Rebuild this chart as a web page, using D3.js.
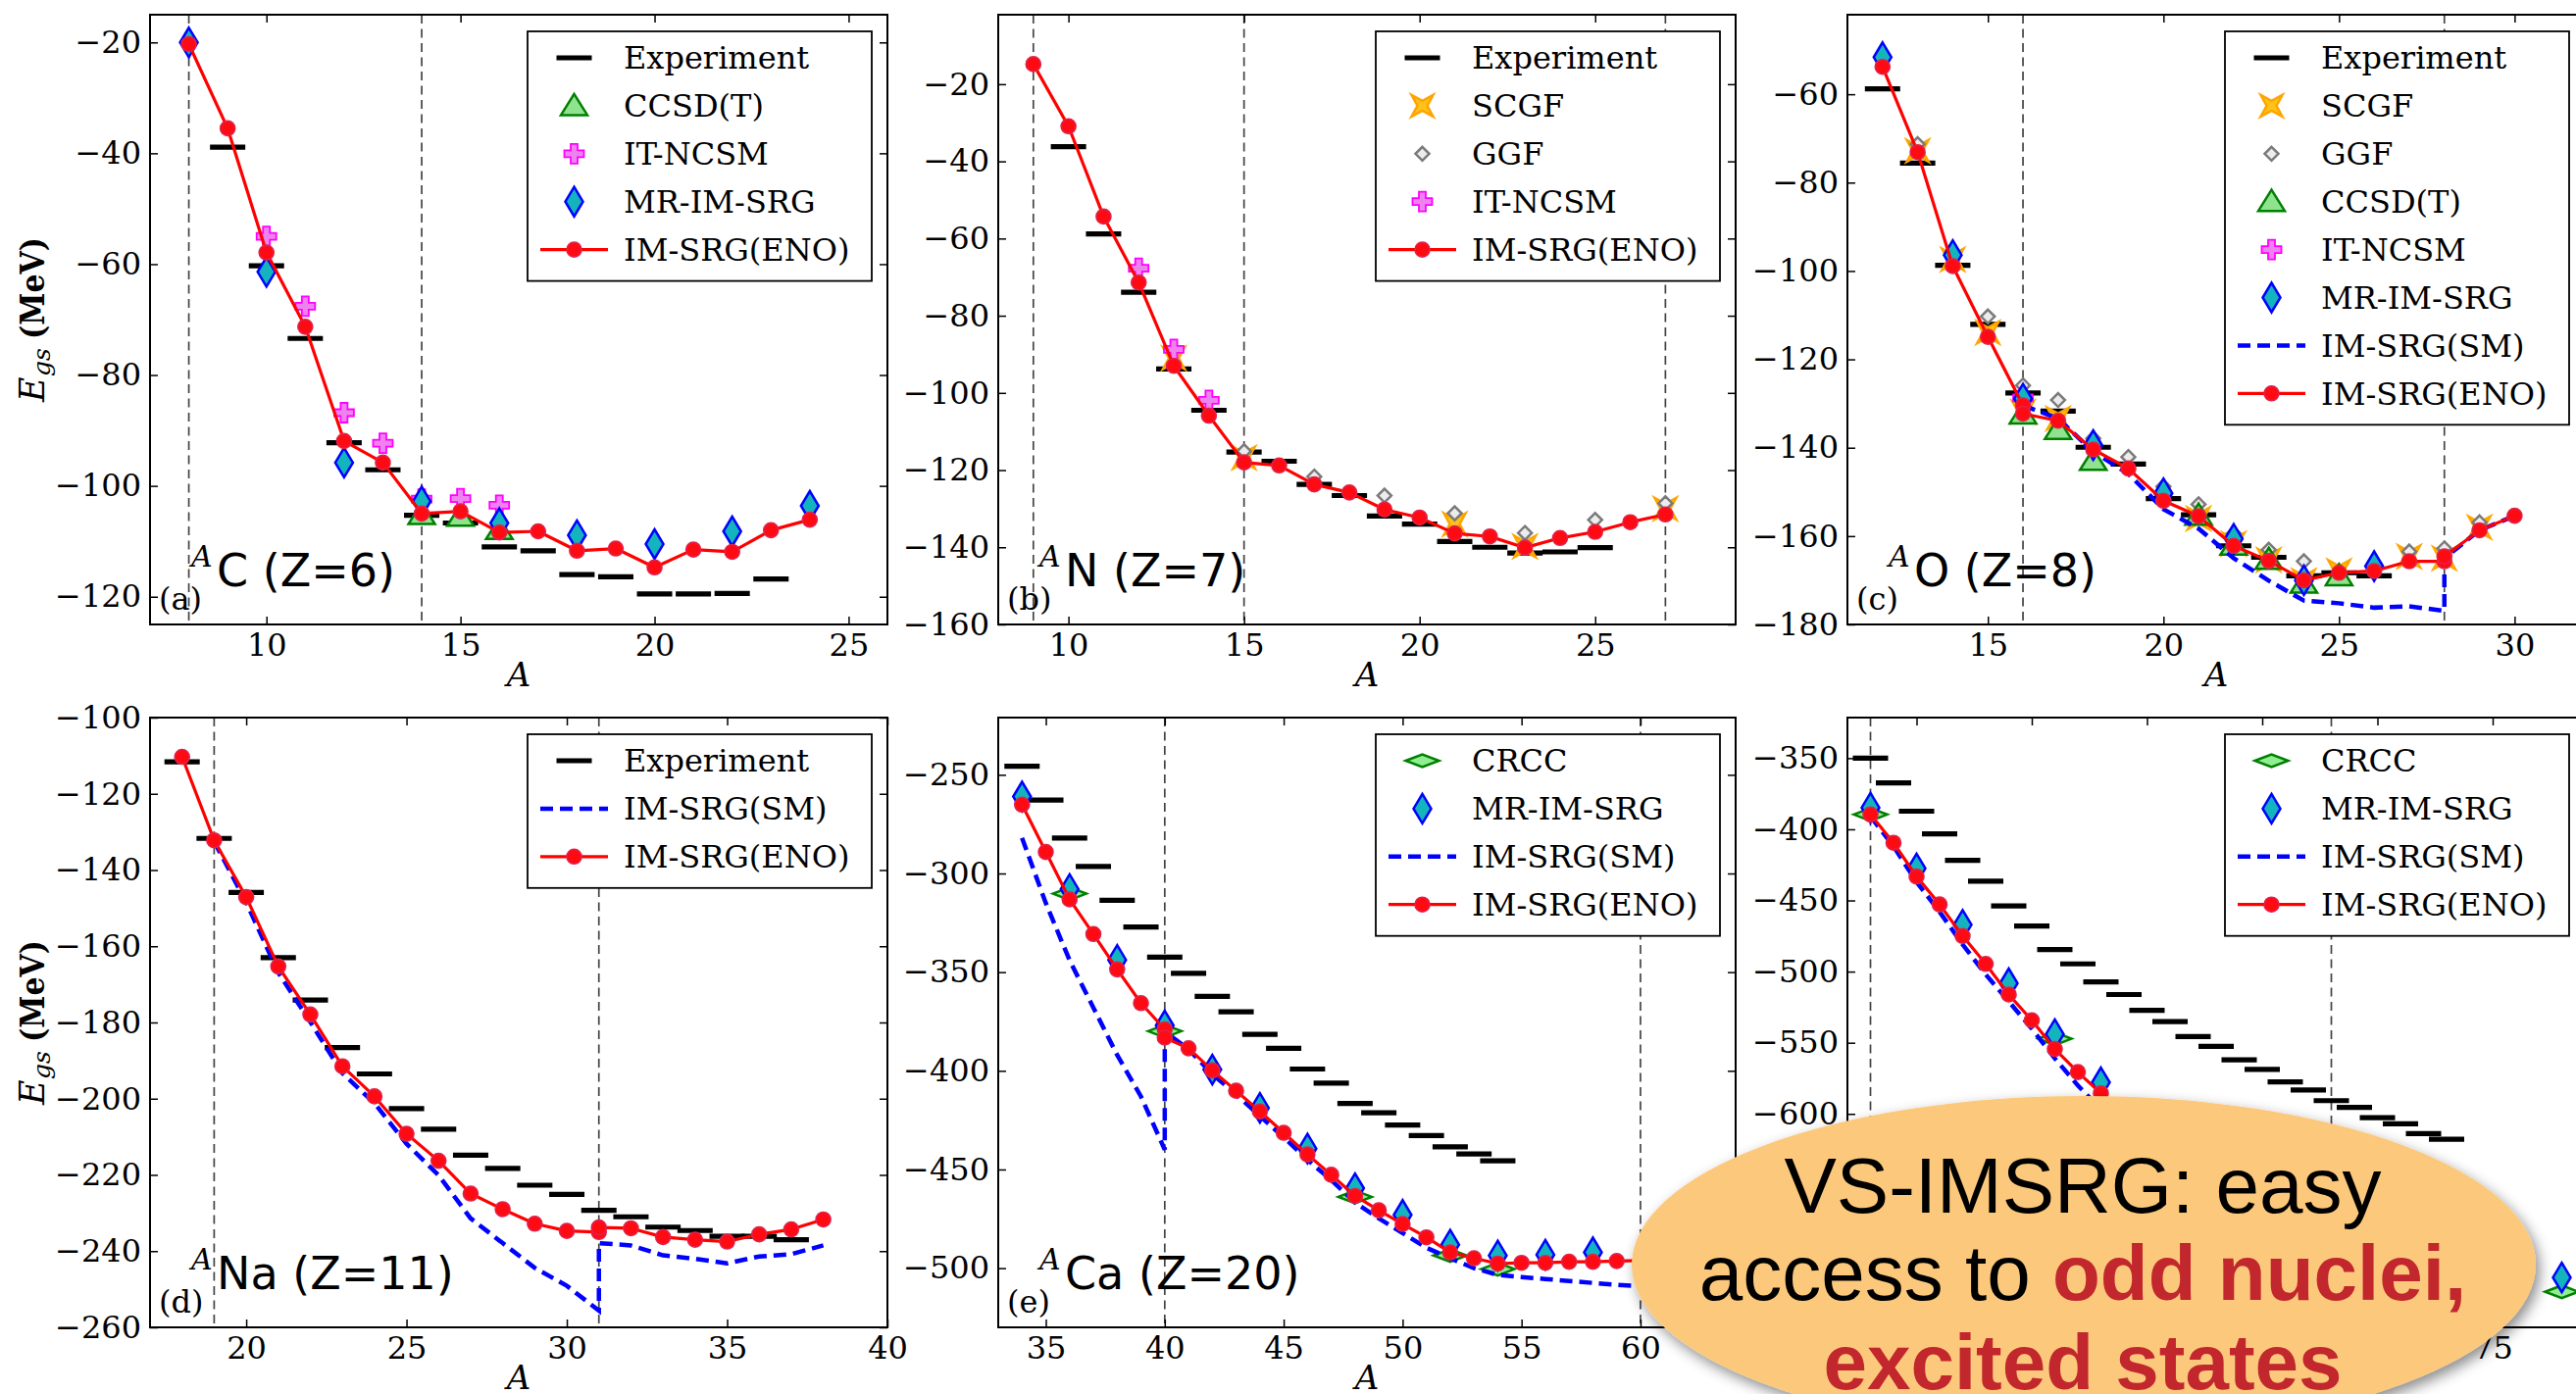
<!DOCTYPE html>
<html>
<head>
<meta charset="utf-8">
<script src="https://cdn.jsdelivr.net/npm/d3@7"></script>
<style>
  body { margin: 0; background: #fff; }
  svg { display: block; }
</style>
</head>
<body>
<div id="chart"></div>
<script>
// ---------- (a) Carbon ----------
var cExpA = [9, 10, 11, 12, 13, 14, 15, 16, 17, 18, 19, 20, 21, 22, 23];
var cExpE = [-38.9, -60.3, -73.4, -92.2, -97.1, -105.3, -106.7, -111.0, -111.7, -116.0, -116.4, -119.5, -119.5, -119.4, -116.8];
var cEnoA = [8, 9, 10, 11, 12, 13, 14, 15, 16, 17, 18, 19, 20, 21, 22, 23, 24];
var cEnoE = [-20.3, -35.5, -57.9, -71.3, -91.9, -95.8, -105.0, -104.6, -108.4, -108.2, -111.7, -111.3, -114.7, -111.5, -111.9, -108.0, -106.1];
var cMrA = [8, 10, 12, 14, 16, 18, 20, 22, 24];
var cMrE = [-20.0, -61.4, -95.8, -102.8, -106.7, -108.9, -110.5, -108.2, -103.6];
var cNcsmA = [10, 11, 12, 13, 14, 15, 16];
var cNcsmE = [-55.0, -67.6, -86.8, -92.3, -102.4, -102.3, -103.5];
var cCcsdA = [14, 15, 16];
var cCcsdE = [-105.2, -105.5, -107.9];
var cMagic = [8, 14];

// ---------- (b) Nitrogen ----------
var nExpA = [10, 11, 12, 13, 14, 15, 16, 17, 18, 19, 20, 21, 22, 23, 24, 25];
var nExpE = [-36.2, -58.8, -73.9, -93.8, -104.5, -115.3, -117.7, -123.7, -126.6, -131.9, -134.0, -138.5, -140.0, -141.5, -141.2, -140.1];
var nEnoA = [9, 10, 11, 12, 13, 14, 15, 16, 17, 18, 19, 20, 21, 22, 23, 24, 25, 26, 27];
var nEnoE = [-14.8, -30.9, -54.3, -71.4, -93.0, -105.9, -118.0, -118.8, -123.7, -125.8, -130.2, -132.3, -136.4, -137.2, -140.1, -137.6, -136.0, -133.5, -131.5];
var nScgfA = [13, 15, 21, 23, 27];
var nScgfE = [-91.0, -116.8, -134.0, -139.8, -130.0];
var nGgfA = [15, 17, 19, 21, 23, 25, 27];
var nGgfE = [-115.1, -121.7, -126.6, -131.2, -136.3, -132.9, -128.6];
var nNcsmA = [12, 13, 14];
var nNcsmE = [-67.7, -88.7, -101.9];
var nMagic = [9, 15, 27];

// ---------- (c) Oxygen ----------
var oExpA = [12, 13, 14, 15, 16, 17, 18, 19, 20, 21, 22, 23, 24, 25, 26];
var oExpE = [-58.8, -75.6, -98.7, -112.1, -127.6, -131.7, -139.9, -143.7, -151.5, -155.2, -162.2, -164.8, -169.0, -168.3, -169.0];
var oEnoA = [12, 13, 14, 15, 16, 16, 17, 18, 19, 20, 21, 22, 23, 24, 25, 26, 27, 28, 28, 29, 30];
var oEnoE = [-53.8, -73.1, -98.9, -114.9, -130.4, -132.3, -133.9, -140.4, -144.7, -152.0, -155.5, -162.2, -165.6, -170.0, -168.3, -167.9, -165.7, -165.7, -164.6, -158.7, -155.4];
var oSmA = [16, 17, 18, 19, 20, 21, 22, 23, 24, 25, 26, 27, 28, 28, 29, 30];
var oSmE = [-130.4, -133.4, -140.9, -145.9, -153.9, -158.3, -165.0, -170.1, -174.6, -175.2, -176.2, -175.9, -176.9, -165.0, -158.7, -155.4];
var oScgfA = [13, 14, 15, 16, 17, 21, 22, 23, 24, 25, 27, 28, 29];
var oScgfE = [-72.8, -97.4, -113.9, -131.9, -133.4, -156.0, -161.7, -165.4, -170.1, -167.9, -164.6, -165.0, -158.0];
var oGgfA = [13, 15, 16, 17, 18, 19, 20, 21, 22, 23, 24, 27, 28, 29];
var oGgfE = [-71.3, -110.3, -125.9, -129.2, -137.9, -142.1, -148.8, -152.8, -159.4, -163.1, -165.7, -163.5, -162.8, -156.9];
var oCcsdA = [16, 17, 18, 21, 22, 23, 24, 25];
var oCcsdE = [-132.4, -135.9, -142.9, -155.3, -162.1, -165.3, -170.7, -169.0];
var oNcsmA = [16];
var oNcsmE = [-128.7];
var oMrA = [12, 14, 16, 18, 20, 22, 24, 26];
var oMrE = [-51.6, -96.4, -128.9, -139.4, -150.3, -160.6, -170.0, -166.8];
var oMagic = [16, 28];

// ---------- (d) Sodium ----------
var naExpA = [18, 19, 20, 21, 22, 23, 24, 25, 26, 27, 28, 29, 30, 31, 32, 33, 34, 35, 36, 37];
var naExpE = [-111.6, -131.7, -145.9, -163.0, -174.1, -186.6, -193.5, -202.6, -208.0, -214.8, -218.3, -222.7, -225.1, -229.3, -231.0, -233.7, -234.6, -236.1, -236.1, -237.0];
var naEnoA = [18, 19, 20, 21, 22, 23, 24, 25, 26, 27, 28, 29, 30, 31, 31, 32, 33, 34, 35, 36, 37, 38];
var naEnoE = [-110.3, -132.2, -147.1, -165.3, -177.9, -191.5, -199.4, -209.2, -216.3, -224.9, -229.0, -232.8, -234.7, -235.0, -233.8, -234.0, -236.3, -237.0, -237.5, -235.6, -234.3, -231.7];
var naSmA = [19, 20, 21, 22, 23, 24, 25, 26, 27, 28, 29, 30, 31, 31, 32, 33, 34, 35, 36, 37, 38];
var naSmE = [-132.5, -148.5, -166.9, -179.9, -193.3, -201.2, -211.8, -220.1, -231.4, -237.9, -244.4, -249.1, -255.6, -237.9, -238.5, -241.1, -242.0, -243.2, -241.4, -240.8, -238.5];
var naMagic = [19, 31];

// ---------- (e) Calcium ----------
var caExpA = [34, 35, 36, 37, 38, 39, 40, 41, 42, 43, 44, 45, 46, 47, 48, 49, 50, 51, 52, 53, 54];
var caExpE = [-245.7, -262.8, -282.0, -296.4, -313.6, -327.1, -342.4, -350.6, -362.3, -370.1, -381.5, -388.6, -399.1, -406.2, -416.5, -421.3, -427.5, -432.8, -438.5, -442.1, -445.6];
var caEnoA = [34, 35, 36, 37, 38, 39, 40, 40, 41, 42, 43, 44, 45, 46, 47, 48, 49, 50, 51, 52, 53, 54, 55, 56, 57, 58, 59, 60];
var caEnoE = [-265.1, -289.1, -313.1, -330.7, -348.6, -365.7, -379.0, -383.2, -388.6, -399.8, -410.1, -420.6, -431.4, -442.4, -452.7, -463.4, -470.7, -477.6, -484.4, -492.0, -495.0, -497.7, -497.3, -497.3, -496.8, -496.8, -496.4, -496.2];
var caSmA = [34, 35, 36, 37, 38, 39, 40, 40, 41, 42, 43, 44, 45, 46, 47, 48, 49, 50, 51, 52, 53, 54, 55, 56, 57, 58, 59, 60];
var caSmE = [-282, -315, -344, -368, -392, -413, -440, -380, -389.1, -401.7, -412.0, -422.9, -433.7, -445.1, -455.4, -466.8, -474.8, -482.2, -489.7, -495.0, -500.0, -503.4, -504.5, -505.5, -506.5, -507.5, -508.5, -509.2];
var caMrA = [34, 36, 38, 40, 42, 44, 46, 48, 50, 52, 54, 56, 58];
var caMrE = [-261.0, -307.9, -343.8, -377.0, -399.4, -418.8, -439.4, -459.5, -473.0, -488.1, -493.6, -493.2, -492.0];
var caCrccA = [36, 40, 48, 52, 54];
var caCrccE = [-310.2, -379.9, -463.9, -493.6, -500.5];
var caMagic = [40, 60];

// ---------- (f) Nickel ----------
var niExpA = [48, 49, 50, 51, 52, 53, 54, 55, 56, 57, 58, 59, 60, 61, 62, 63, 64, 65, 66, 67, 68, 69, 70, 71, 72, 73];
var niExpE = [-350.0, -367.4, -387.3, -403.2, -421.8, -436.4, -453.8, -468.0, -484.5, -494.6, -507.3, -516.1, -527.2, -535.1, -545.6, -552.5, -562.0, -568.8, -577.5, -583.2, -590.7, -595.4, -602.7, -607.0, -613.8, -617.8];
var niEnoA = [48, 49, 50, 51, 52, 53, 54, 55, 56, 57, 58];
var niEnoE = [-389.6, -409.5, -433.2, -452.8, -475.0, -494.6, -516.1, -534.2, -554.4, -570.6, -585.5];
var niSmA = [48, 49, 50, 51, 52, 53, 54, 55, 56, 57, 58];
var niSmE = [-391, -412, -437, -458, -481, -502, -521, -540, -561, -580, -597];
var niMrA = [48, 50, 52, 54, 56, 58, 78];
var niMrE = [-384.8, -427.5, -467.1, -508.2, -544.0, -577.8, -715.0];
var niCrccA = [48, 56, 78];
var niCrccE = [-389.6, -547.2, -725.0];
var niMagic = [48, 68];

// legend names
var names = {
  exp: "Experiment", scgf: "SCGF", ggf: "GGF", ccsd: "CCSD(T)", ncsm: "IT-NCSM",
  mr: "MR-IM-SRG", sm: "IM-SRG(SM)", eno: "IM-SRG(ENO)", crcc: "CRCC"
};

//Panel setup
var panels = [
  {col: 0, row: 0, xDomain: [7, 26], yDomain: [-125, -15], yStep: 20, magic: cMagic,
   sym: "C", z: "(Z=6)", tag: "(a)", yLabel: true,
   series: [["exp", cExpA, cExpE], ["ccsd", cCcsdA, cCcsdE], ["ncsm", cNcsmA, cNcsmE], ["mr", cMrA, cMrE], ["eno", cEnoA, cEnoE]],
   legend: ["exp", "ccsd", "ncsm", "mr", "eno"]},
  {col: 1, row: 0, xDomain: [8, 29], yDomain: [-160, -2], yStep: 20, magic: nMagic,
   sym: "N", z: "(Z=7)", tag: "(b)",
   series: [["exp", nExpA, nExpE], ["scgf", nScgfA, nScgfE], ["ggf", nGgfA, nGgfE], ["ncsm", nNcsmA, nNcsmE], ["eno", nEnoA, nEnoE]],
   legend: ["exp", "scgf", "ggf", "ncsm", "eno"]},
  {col: 2, row: 0, xDomain: [11, 32], yDomain: [-180, -42], yStep: 20, magic: oMagic,
   sym: "O", z: "(Z=8)", tag: "(c)",
   series: [["exp", oExpA, oExpE], ["scgf", oScgfA, oScgfE], ["ggf", oGgfA, oGgfE], ["ccsd", oCcsdA, oCcsdE],
            ["ncsm", oNcsmA, oNcsmE], ["mr", oMrA, oMrE], ["sm", oSmA, oSmE], ["eno", oEnoA, oEnoE]],
   legend: ["exp", "scgf", "ggf", "ccsd", "ncsm", "mr", "sm", "eno"]},
  {col: 0, row: 1, xDomain: [17, 40], yDomain: [-260, -100], yStep: 20, magic: naMagic,
   sym: "Na", z: "(Z=11)", tag: "(d)", yLabel: true,
   series: [["exp", naExpA, naExpE], ["sm", naSmA, naSmE], ["eno", naEnoA, naEnoE]],
   legend: ["exp", "sm", "eno"]},
  {col: 1, row: 1, xDomain: [33, 64], yDomain: [-530, -221], yStep: 50, magic: caMagic,
   sym: "Ca", z: "(Z=20)", tag: "(e)",
   series: [["exp", caExpA, caExpE], ["crcc", caCrccA, caCrccE], ["mr", caMrA, caMrE], ["sm", caSmA, caSmE], ["eno", caEnoA, caEnoE]],
   legend: ["crcc", "mr", "sm", "eno"]},
  {col: 2, row: 1, xDomain: [47, 79], yDomain: [-750, -321.5], yStep: 50, magic: niMagic,
   sym: "Ni", z: "(Z=28)", tag: "(f)",
   series: [["exp", niExpA, niExpE], ["crcc", niCrccA, niCrccE], ["mr", niMrA, niMrE], ["sm", niSmA, niSmE], ["eno", niEnoA, niEnoE]],
   legend: ["crcc", "mr", "sm", "eno"]}
];

//Width and height
var w = 2627;
var h = 1422;
var colLeft = [153, 1018, 1884];
var rowTop = [15, 732];
var pw = 752;
var ph = 622;
var serif = "'DejaVu Serif', serif";

// marker shapes, in pixels around the point
var markerStyles = {
  exp:  {d: "M-18,-2.6H18V2.6H-18Z", fill: "#000", stroke: "none", sw: 0},
  mr:   {d: "M0,-15L9,0L0,15L-9,0Z", fill: "#14b4bf", stroke: "#0000ff", sw: 2.5},
  ccsd: {d: "M0,-12L13.5,9.5L-13.5,9.5Z", fill: "#8fe38f", stroke: "#008000", sw: 2.5},
  ncsm: {d: "M-3.5,-10H3.5V-3.5H10V3.5H3.5V10H-3.5V3.5H-10V-3.5H-3.5Z", fill: "#ee82ee", stroke: "#ff00ff", sw: 1.8},
  scgf: {d: "M11,-11L5,0L11,11L0,5L-11,11L-5,0L-11,-11L0,-5Z", fill: "#ffc21a", stroke: "#ffa500", sw: 2.5},
  ggf:  {d: "M0,-7L7,0L0,7L-7,0Z", fill: "#ececec", stroke: "#7a7a7a", sw: 2.5},
  crcc: {d: "M-17,0L0,-6.5L17,0L0,6.5Z", fill: "#90ee90", stroke: "#008000", sw: 2.5}
};

function drawSymbol(g, type, px, py) {
  if (type === "eno") {
    g.append("circle").attr("cx", px).attr("cy", py).attr("r", 7.5)
      .attr("fill", "#ff0a12").attr("stroke", "#e0224a").attr("stroke-width", 1.6);
    return;
  }
  var s = markerStyles[type];
  g.append("path").attr("d", s.d)
    .attr("transform", "translate(" + px + "," + py + ")")
    .attr("fill", s.fill).attr("stroke", s.stroke)
    .attr("stroke-width", s.sw).attr("stroke-linejoin", "miter");
}

var svg = d3.select("#chart")
  .append("svg")
  .attr("width", w)
  .attr("height", h);

var defs = svg.append("defs");

panels.forEach(function(p, pi) {
  var left = colLeft[p.col];
  var top = rowTop[p.row];

  var xScale = d3.scaleLinear().domain(p.xDomain).range([0, pw]);
  var yScale = d3.scaleLinear().domain(p.yDomain).range([ph, 0]);

  var g = svg.append("g").attr("transform", "translate(" + left + "," + top + ")");

  //clip to the axes box
  defs.append("clipPath").attr("id", "clip" + pi)
    .append("rect").attr("width", pw).attr("height", ph);

  var plot = g.append("g").attr("clip-path", "url(#clip" + pi + ")");

  //magic number lines
  plot.selectAll(".magic")
    .data(p.magic)
    .enter()
    .append("line")
    .attr("x1", function(d) { return xScale(d); })
    .attr("x2", function(d) { return xScale(d); })
    .attr("y1", 0)
    .attr("y2", ph)
    .attr("stroke", "#444")
    .attr("stroke-width", 1.7)
    .attr("stroke-dasharray", "9,5.5");

  //series
  p.series.forEach(function(s) {
    var type = s[0];
    var pts = s[1].map(function(a, i) { return [a, s[2][i]]; });
    var line = d3.line()
      .x(function(d) { return xScale(d[0]); })
      .y(function(d) { return yScale(d[1]); });
    if (type === "sm") {
      plot.append("path").datum(pts).attr("d", line)
        .attr("fill", "none").attr("stroke", "#0000ff")
        .attr("stroke-width", 4.5).attr("stroke-dasharray", "13,7");
      return;
    }
    if (type === "eno") {
      plot.append("path").datum(pts).attr("d", line)
        .attr("fill", "none").attr("stroke", "#ff0000")
        .attr("stroke-width", 3.2).attr("stroke-linejoin", "round");
    }
    var mg = plot.append("g");
    pts.forEach(function(d) {
      drawSymbol(mg, type, xScale(d[0]), yScale(d[1]));
    });
  });

  //axes with inward ticks on all four sides
  var xt = d3.range(Math.ceil(p.xDomain[0] / 5) * 5, p.xDomain[1] + 1e-9, 5);
  var yt = d3.range(Math.ceil(p.yDomain[0] / p.yStep) * p.yStep, p.yDomain[1] + 1e-9, p.yStep);
  var fmt = d3.format("d");

  function styleAxis(a) {
    a.select(".domain").remove();
    a.selectAll(".tick line").attr("stroke", "#000").attr("stroke-width", 1.5);
    a.selectAll(".tick text").attr("fill", "#000")
      .attr("font-family", serif).attr("font-size", 32);
    a.attr("font-family", serif).attr("font-size", 32);
  }

  g.append("g").attr("transform", "translate(0," + ph + ")")
    .call(d3.axisBottom(xScale).tickValues(xt).tickFormat(fmt).tickSize(-8).tickPadding(9))
    .call(styleAxis);
  g.append("g")
    .call(d3.axisTop(xScale).tickValues(xt).tickFormat("").tickSize(-8))
    .call(styleAxis);
  g.append("g")
    .call(d3.axisLeft(yScale).tickValues(yt).tickFormat(fmt).tickSize(-8).tickPadding(9))
    .call(styleAxis);
  g.append("g").attr("transform", "translate(" + pw + ",0)")
    .call(d3.axisRight(yScale).tickValues(yt).tickFormat("").tickSize(-8))
    .call(styleAxis);

  //frame
  g.append("rect").attr("width", pw).attr("height", ph)
    .attr("fill", "none").attr("stroke", "#000").attr("stroke-width", 2);

  //legend
  var n = p.legend.length;
  var lw = 351, lh = 27 + (n - 1) * 48.9 + 32;
  var lx = pw - 16 - lw, ly = 17;
  var leg = g.append("g").attr("transform", "translate(" + lx + "," + ly + ")");
  leg.append("rect").attr("width", lw).attr("height", lh)
    .attr("fill", "#fff").attr("stroke", "#000").attr("stroke-width", 1.8);
  p.legend.forEach(function(type, i) {
    var cy = 27 + i * 48.9;
    if (type === "sm") {
      leg.append("line").attr("x1", 13).attr("x2", 82).attr("y1", cy).attr("y2", cy)
        .attr("stroke", "#0000ff").attr("stroke-width", 4.5).attr("stroke-dasharray", "13,7");
    } else if (type === "eno") {
      leg.append("line").attr("x1", 13).attr("x2", 82).attr("y1", cy).attr("y2", cy)
        .attr("stroke", "#ff0000").attr("stroke-width", 3.2);
      drawSymbol(leg, "eno", 47.5, cy);
    } else {
      drawSymbol(leg, type, 47.5, cy);
    }
    leg.append("text").attr("x", 98).attr("y", cy).attr("dy", "0.35em")
      .attr("font-family", serif).attr("font-size", 32).attr("fill", "#000")
      .text(names[type]);
  });

  //nucleus label
  g.append("text").attr("x", 42).attr("y", ph - 59)
    .attr("font-family", serif).attr("font-style", "italic").attr("font-size", 30)
    .text("A");
  g.append("text").attr("x", 68).attr("y", ph - 39)
    .attr("font-family", "'DejaVu Sans', sans-serif").attr("font-size", 46)
    .text(p.sym + " " + p.z);
  g.append("text").attr("x", 9).attr("y", ph - 15)
    .attr("font-family", serif).attr("font-size", 32)
    .text(p.tag);

  // Text label for the X axis
  g.append("text").attr("x", pw / 2).attr("y", ph + 63)
    .attr("text-anchor", "middle")
    .attr("font-family", serif).attr("font-style", "italic").attr("font-size", 34)
    .text("A");

  // Text label for the Y axis (rotated; local x runs upward)
  if (p.yLabel) {
    var yl = svg.append("g")
      .attr("transform", "translate(45," + (top + ph / 2) + ") rotate(-90)")
      .attr("font-family", serif);
    yl.append("text").attr("x", -84).attr("y", 0)
      .attr("font-style", "italic").attr("font-size", 35).text("E");
    yl.append("text").attr("x", -58).attr("y", 6)
      .attr("font-style", "italic").attr("font-size", 25).text("gs");
    yl.append("text").attr("x", -20).attr("y", 0)
      .attr("font-weight", "bold").attr("font-size", 33)
      .attr("textLength", 104).attr("lengthAdjust", "spacingAndGlyphs")
      .text("(MeV)");
  }
});

//Callout bubble
var shadow = defs.append("filter").attr("id", "shadow")
  .attr("x", "-10%").attr("y", "-10%").attr("width", "125%").attr("height", "130%");
shadow.append("feDropShadow").attr("dx", 4).attr("dy", 6).attr("stdDeviation", 7)
  .attr("flood-color", "#000").attr("flood-opacity", 0.45);

var bubble = svg.append("g");
bubble.append("ellipse")
  .attr("cx", 2125).attr("cy", 1290).attr("rx", 461).attr("ry", 172)
  .attr("fill", "#fcc97c")
  .attr("filter", "url(#shadow)");

var sans = "'Liberation Sans', Arial, sans-serif";
bubble.append("text").attr("x", 2124).attr("y", 1237)
  .attr("text-anchor", "middle").attr("font-family", sans).attr("font-size", 80).attr("fill", "#000")
  .text("VS-IMSRG: easy");
var l2 = bubble.append("text").attr("x", 2124).attr("y", 1326)
  .attr("text-anchor", "middle").attr("font-family", sans).attr("font-size", 80).attr("fill", "#000");
l2.append("tspan").text("access to ");
l2.append("tspan").attr("font-weight", "bold").attr("fill", "#c1272d").text("odd nuclei,");
bubble.append("text").attr("x", 2124).attr("y", 1417)
  .attr("text-anchor", "middle").attr("font-family", sans).attr("font-size", 80)
  .attr("font-weight", "bold").attr("fill", "#c1272d")
  .text("excited states");
</script>
</body>
</html>
